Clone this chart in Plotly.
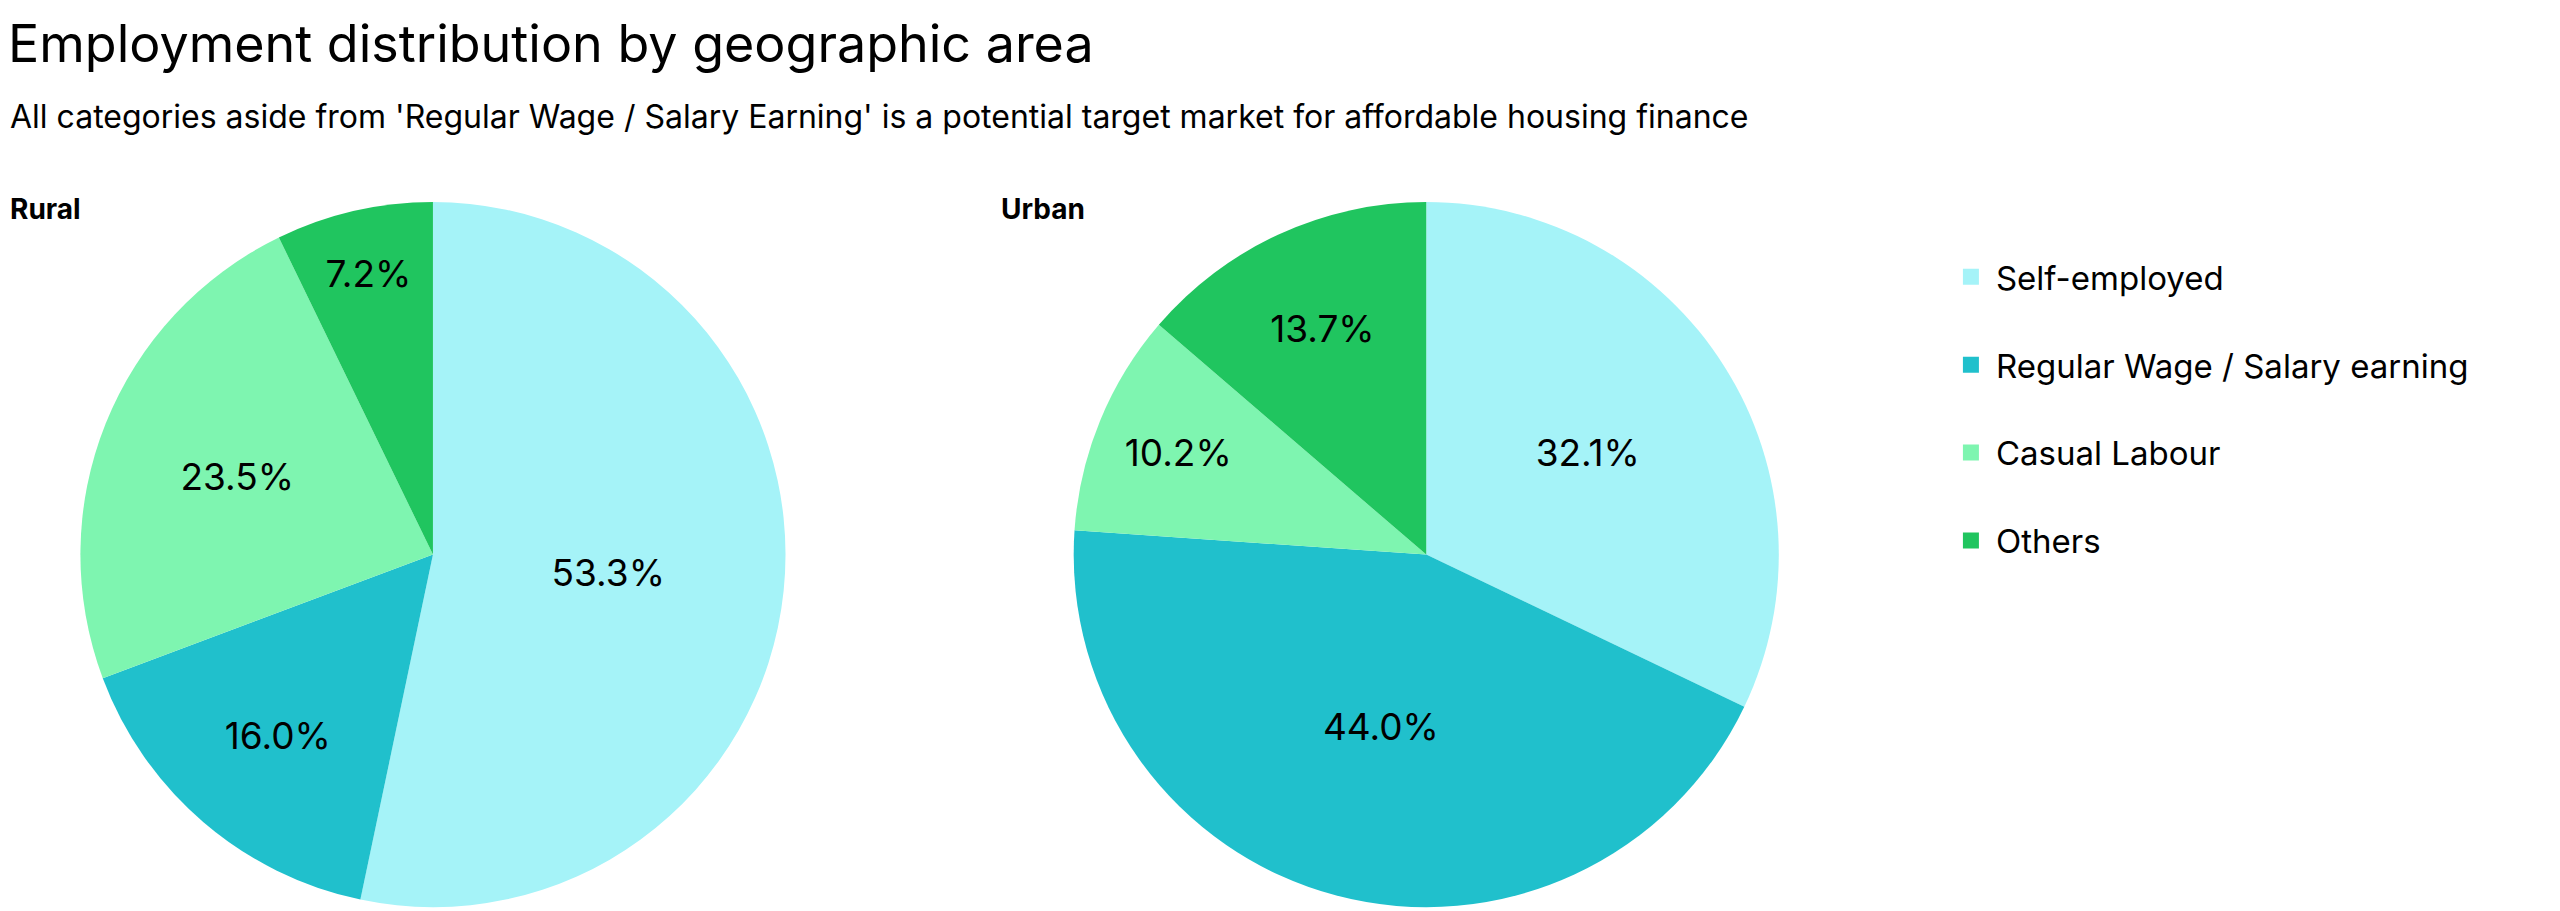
import plotly.graph_objects as go

categories = ["Self-employed", "Regular Wage / Salary earning", "Casual Labour", "Others"]
rural_values = [53.3, 16.0, 23.5, 7.2]
urban_values = [32.1, 44.0, 10.2, 13.7]
colors = ["#A5F3F8", "#20C0CC", "#7EF5B0", "#20C55F"]

FONT = "Inter, Liberation Sans, sans-serif"
fig = go.Figure()
for vals, dom, name in [(rural_values, [0.028, 0.304], "Rural"),
                        (urban_values, [0.416, 0.692], "Urban")]:
    fig.add_trace(go.Pie(
        labels=categories, values=vals, name=name, sort=False, direction="clockwise",
        rotation=0, marker=dict(colors=colors), textinfo="percent",
        texttemplate="%{percent:.1%}", textposition="inside", insidetextorientation="horizontal",
        textfont=dict(size=37, color="black", family=FONT),
        domain=dict(x=dom, y=[0.013, 0.787]), showlegend=False, hoverinfo="label+percent"))

# legend entries
for cat, col in zip(categories, colors):
    fig.add_trace(go.Scatter(x=[None], y=[None], mode="markers", name=cat, legendgroup=cat,
                             marker=dict(symbol="square", size=34, color=col), showlegend=True))

fig.update_xaxes(visible=False)
fig.update_yaxes(visible=False)
fig.update_layout(
    width=2560, height=911, margin=dict(l=0, r=0, t=0, b=0),
    paper_bgcolor="white", plot_bgcolor="white", font=dict(family=FONT, color="black"),
    legend=dict(x=0.757, y=0.56, xanchor="left", yanchor="middle", font=dict(size=33),
                itemwidth=40, tracegroupgap=42, traceorder="grouped"),
    annotations=[
        dict(text="Employment distribution by geographic area", x=0, y=1.0, xref="paper", yref="paper",
             xanchor="left", yanchor="top", showarrow=False, font=dict(size=52), xshift=-2, yshift=-2),
        dict(text="All categories aside from 'Regular Wage / Salary Earning' is a potential target market for affordable housing finance",
             x=0, y=0.905, xref="paper", yref="paper", xanchor="left", yanchor="top", showarrow=False,
             font=dict(size=32)),
        dict(text="<b>Rural</b>", x=0, y=0.80, xref="paper", yref="paper", xanchor="left", yanchor="top",
             showarrow=False, font=dict(size=28)),
        dict(text="<b>Urban</b>", x=0.387, y=0.80, xref="paper", yref="paper", xanchor="left", yanchor="top",
             showarrow=False, font=dict(size=28)),
    ])
fig.write_html("out.html")
